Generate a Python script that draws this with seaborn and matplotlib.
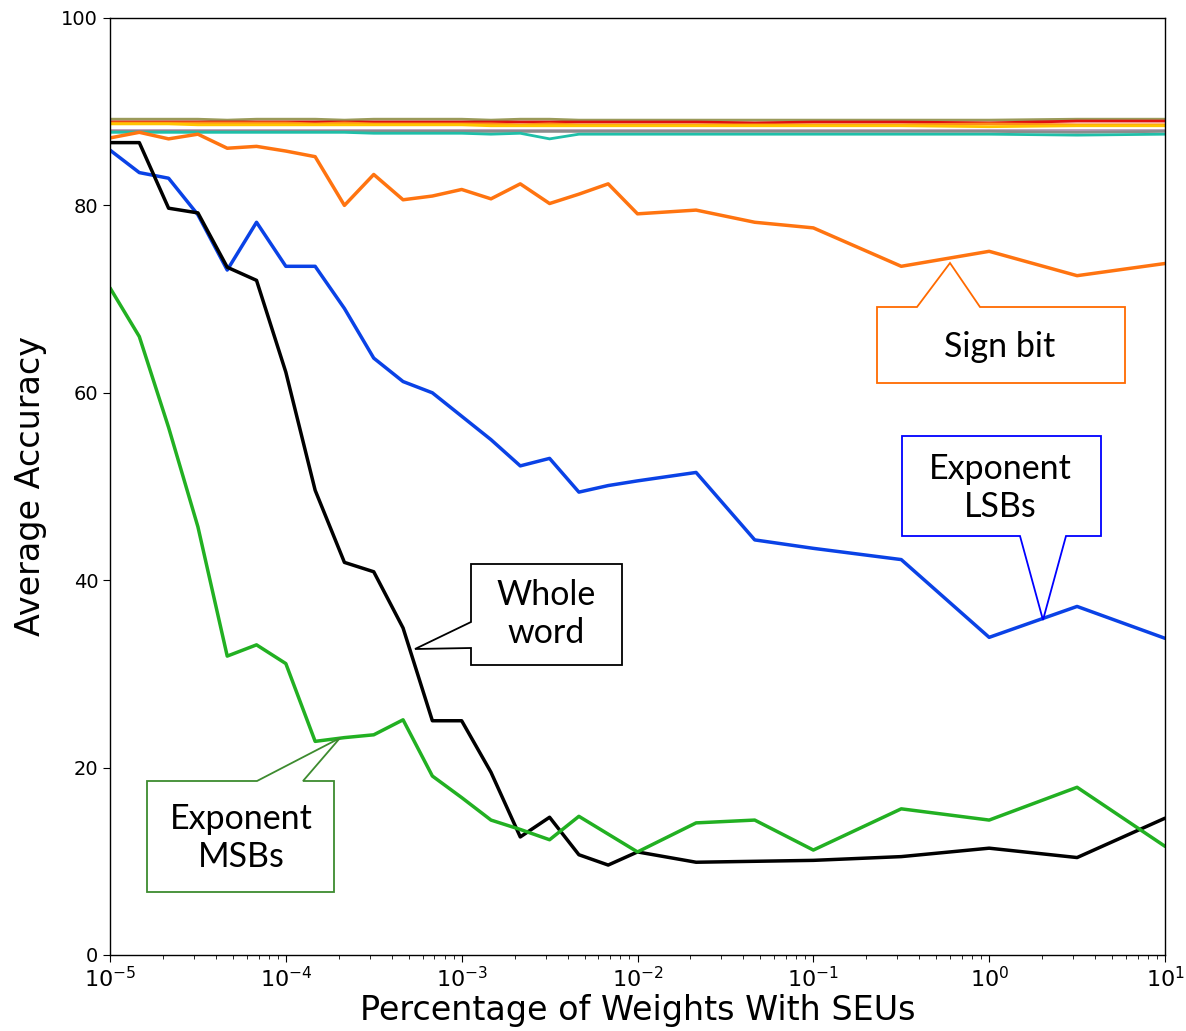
import numpy as np
import pandas as pd
import matplotlib
matplotlib.use("Agg")
import matplotlib.pyplot as plt
import seaborn as sns
from matplotlib.patches import Polygon

# Fraction of weights hit by single-event upsets (percent)
pct = [1e-5, 1.468e-5, 2.154e-5, 3.162e-5, 4.642e-5, 6.813e-5,
       1e-4, 1.468e-4, 2.154e-4, 3.162e-4, 4.642e-4, 6.813e-4,
       1e-3, 1.468e-3, 2.154e-3, 3.162e-3, 4.642e-3, 6.813e-3,
       1e-2, 2.154e-2, 4.642e-2, 1e-1, 3.162e-1, 1.0, 3.162, 10.0]

whole_word = [86.7, 86.7, 79.7, 79.2, 73.4, 72.0, 62.2, 49.6, 41.9, 40.9, 34.9, 25.0,
              25.0, 19.5, 12.6, 14.7, 10.7, 9.6, 11.0, 9.9, 10.0, 10.1, 10.5, 11.4, 10.4, 14.6]
exponent_lsbs = [85.9, 83.5, 82.9, 79.0, 73.1, 78.2, 73.5, 73.5, 69.0, 63.7, 61.2, 60.0,
                 57.5, 55.0, 52.2, 53.0, 49.4, 50.1, 50.6, 51.5, 44.3, 43.4, 42.2, 33.9, 37.2, 33.8]
exponent_msbs = [71.2, 66.0, 56.3, 45.7, 31.9, 33.1, 31.1, 22.8, 23.2, 23.5, 25.1, 19.1,
                 16.8, 14.4, 13.4, 12.3, 14.8, 12.9, 11.0, 14.1, 14.4, 11.2, 15.6, 14.4, 17.9, 11.6]
sign_bit = [87.2, 87.8, 87.1, 87.6, 86.1, 86.3, 85.8, 85.2, 80.0, 83.3, 80.6, 81.0,
            81.7, 80.7, 82.3, 80.2, 81.2, 82.3, 79.1, 79.5, 78.2, 77.6, 73.5, 75.1, 72.5, 73.8]

# Mantissa bit groups, all close to the fault-free accuracy
mant_a = [89.2, 89.2, 89.2, 89.2, 89.1, 89.2, 89.2, 89.2, 89.1, 89.2, 89.2, 89.2,
          89.2, 89.1, 89.2, 89.2, 89.1, 89.1, 89.1, 89.1, 89.1, 89.1, 89.1, 89.1, 89.2, 89.2]
mant_b = [88.9, 88.9, 88.9, 88.9, 88.9, 88.9, 88.9, 88.9, 88.9, 88.9, 88.9, 88.9,
          88.9, 88.9, 88.9, 88.9, 88.9, 88.9, 88.9, 88.9, 88.8, 88.9, 88.9, 88.8, 89.0, 89.0]
mant_c = [88.8, 88.8, 88.8, 88.8, 88.8, 88.8, 88.8, 88.7, 88.8, 88.7, 88.7, 88.7,
          88.7, 88.7, 88.6, 88.7, 88.6, 88.6, 88.6, 88.6, 88.6, 88.6, 88.6, 88.7, 88.6, 88.6]
mant_d = [88.7, 88.7, 88.7, 88.6, 88.6, 88.6, 88.6, 88.6, 88.6, 88.6, 88.6, 88.6,
          88.6, 88.5, 88.5, 88.5, 88.5, 88.5, 88.5, 88.5, 88.5, 88.5, 88.5, 88.4, 88.5, 88.5]
mant_e = [88.1, 88.1, 88.1, 88.1, 88.1, 88.1, 88.1, 88.1, 88.1, 88.1, 88.1, 88.1,
          88.1, 88.1, 88.1, 88.1, 88.1, 88.1, 88.1, 88.1, 88.1, 88.1, 88.1, 88.1, 88.1, 88.1]
mant_f = [87.9, 87.9, 87.9, 87.9, 87.9, 87.9, 87.9, 87.9, 87.9, 87.9, 87.9, 87.9,
          87.9, 87.9, 87.9, 87.9, 87.9, 87.9, 87.9, 87.9, 87.9, 87.9, 87.9, 87.9, 87.8, 87.9]
mant_g = [87.8, 87.8, 87.8, 87.8, 87.8, 87.8, 87.8, 87.8, 87.8, 87.7, 87.7, 87.7,
          87.7, 87.6, 87.7, 87.1, 87.6, 87.6, 87.6, 87.6, 87.6, 87.6, 87.6, 87.6, 87.5, 87.6]

series = {
    "Mantissa A": mant_a, "Mantissa B": mant_b, "Mantissa C": mant_c,
    "Mantissa D": mant_d, "Mantissa E": mant_e, "Mantissa F": mant_f,
    "Mantissa G": mant_g, "Sign bit": sign_bit, "Exponent LSBs": exponent_lsbs,
    "Whole word": whole_word, "Exponent MSBs": exponent_msbs,
}
palette = {
    "Mantissa A": "#9a9a5a", "Mantissa B": "#e01010", "Mantissa C": "#ff8c1a",
    "Mantissa D": "#ffc400", "Mantissa E": "#b89ab8", "Mantissa F": "#8c8c8c",
    "Mantissa G": "#1fbfa8", "Sign bit": "#ff7410", "Exponent LSBs": "#0a42e6",
    "Whole word": "#000000", "Exponent MSBs": "#22b022",
}
widths = {k: 2.0 for k in series}
for k in ["Sign bit", "Exponent LSBs", "Whole word", "Exponent MSBs"]:
    widths[k] = 2.5

df = pd.DataFrame([
    {"pct": x, "acc": v, "group": name}
    for name, vals in series.items() for x, v in zip(pct, vals)
])

sns.set_style("ticks")
plt.rcParams.update({"text.color": "black", "axes.labelcolor": "black",
                     "xtick.color": "black", "ytick.color": "black"})
W, H = 1186, 1031
fig = plt.figure(figsize=(W / 100, H / 100), dpi=100)
ax = fig.add_axes([110 / W, 1 - 955 / H, 1055 / W, 937 / H])

for name in series:
    sns.lineplot(data=df[df["group"] == name], x="pct", y="acc", color=palette[name],
                 lw=widths[name], ax=ax, legend=False, errorbar=None)

ax.set_xscale("log")
ax.set_xlim(1e-5, 10)
ax.set_ylim(0, 100)
ax.set_yticks([0, 20, 40, 60, 80, 100])
ax.tick_params(axis="both", direction="out", length=5, color="black")
ax.tick_params(axis="y", labelsize=14)
ax.tick_params(axis="x", labelsize=16, pad=3)
ax.tick_params(axis="x", which="minor", length=3)
for s in ax.spines.values():
    s.set_visible(True)
    s.set_color("black")
    s.set_linewidth(1.0)
ax.set_xlabel("Percentage of Weights With SEUs", fontsize=24, labelpad=2)
ax.set_ylabel("Average Accuracy", fontsize=24, labelpad=10)


def fp(x, y):
    return (x / W, 1 - y / H)


def callout(pts, color, text, center, lw=1.3):
    poly = Polygon([fp(*p) for p in pts], closed=True, facecolor="white",
                   edgecolor=color, lw=lw, transform=fig.transFigure, zorder=10)
    fig.patches.append(poly)
    fig.text(*fp(*center), text, ha="center", va="center", fontsize=24.5,
             family="Lato", color="black", linespacing=1.25, zorder=11)


# Sign bit bubble, pointer on top edge
callout([(877, 307), (917, 307), (950, 263), (980, 307), (1125, 307),
         (1125, 383), (877, 383)], "#ff6a00", "Sign bit", (1000, 347))
# Exponent LSBs bubble, pointer on bottom edge
callout([(902, 436), (1101, 436), (1101, 536), (1066, 536), (1043, 620),
         (1020, 536), (902, 536)], "#0000ff", "Exponent\nLSBs", (1000, 488))
# Whole word bubble, pointer on left edge
callout([(471, 564), (622, 564), (622, 665), (471, 665), (471, 648),
         (415, 649), (471, 622)], "#000000", "Whole\nword", (546, 614))
# Exponent MSBs bubble, pointer on top edge
callout([(147, 781), (257, 781), (340, 738), (303, 781), (334, 781),
         (334, 892), (147, 892)], "#3d8b2f", "Exponent\nMSBs", (241, 838))

fig.savefig("out.png", dpi=100, facecolor="white")
